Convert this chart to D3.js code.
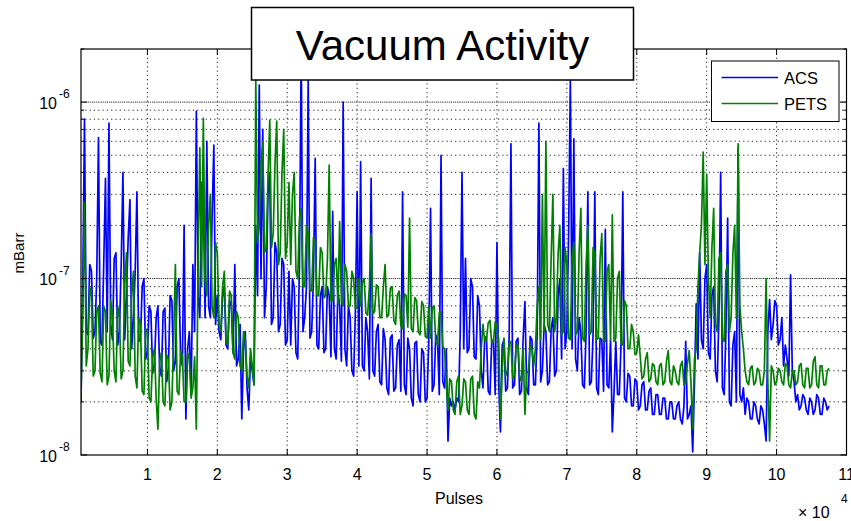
<!DOCTYPE html>
<html>
<head>
<meta charset="utf-8">
<script src="https://cdn.jsdelivr.net/npm/d3@7"></script>
<style>
  body { margin: 0; background: #fff; }
  svg { display: block; font-family: Arial, "Liberation Sans", Helvetica, sans-serif; }
</style>
</head>
<body>
<svg id="chart" width="851" height="521"></svg>
<script>
// pressure readings in units of 1e-8 mBarr, one every 250 pulses starting at 500
const pulseStart = 500;
const pulseStep = 250;
const valueUnit = 1e-8;

const acs = [
  2.0, 9, 80, 5.0, 4.8, 12, 11, 4.6, 5.0, 10, 63, 4.4, 4.2, 12, 37, 5.0, 76, 5.5, 4.5, 13,
  14, 4.2, 5.0, 12, 40, 4.5, 8, 17, 28, 4.0, 6, 11, 31, 4.4, 4.5, 9, 10, 3.5, 3.8, 7,
  6.5, 2.9, 3.2, 6.0, 7.0, 3.1, 2.8, 6.5, 6.8, 2.6, 3.0, 8, 7.5, 3.0, 3.4, 9, 10, 3.6, 3.2, 20,
  1.6, 4.0, 5.0, 2.2, 12, 5, 89, 8, 6, 35, 30, 6, 60, 7, 6, 22, 57, 5.5, 8, 5,
  4.5, 8, 9, 4.2, 4.0, 7.5, 7, 3.8, 12, 3.2, 3.5, 5.5, 1.6, 4.0, 5, 2.4, 1.8, 3.6, 3.0, 2.5,
  20, 8, 125, 10, 70, 6, 9, 30, 40, 5.5, 6, 16, 14, 5, 5.5, 13, 12, 4.2, 4.5, 11,
  4.2, 10, 9, 3.8, 3.5, 12, 210, 5, 6, 9, 136, 4.6, 5, 10, 48, 4.2, 4, 8, 9, 3.8,
  4.0, 9, 8, 3.6, 24, 4.0, 3.5, 8.5, 7, 3.4, 100, 4.0, 3.2, 7, 6, 3.0, 2.8, 6.5, 31, 3.2,
  46, 3.2, 3.0, 6, 5, 2.7, 37, 3.0, 2.8, 5, 5.5, 2.6, 2.5, 5.2, 4.5, 2.4, 2.2, 4.6, 4.8, 2.3,
  2.4, 4.2, 4.5, 2.3, 31, 2.5, 2.2, 4.6, 4.0, 2.1, 1.9, 4.3, 4.4, 2.2, 2.0, 4.0, 3.8, 2.0, 2.1, 4.5,
  25, 2.3, 2.5, 4.8, 4.5, 2.2, 50, 2.6, 2.4, 4.0, 1.2, 2.1, 1.9, 2.0, 1.8, 2.1, 2.0, 5, 40, 4.0,
  13, 3.8, 4.0, 10, 9, 3.6, 3.5, 8, 7, 3.0, 2.4, 4.6, 4.7, 2.3, 2.2, 4.4, 4.5, 2.2, 16, 2.5,
  1.35, 4.2, 4.5, 2.3, 2.4, 4.8, 58, 2.4, 2.5, 4.4, 4.6, 2.2, 2.3, 4.6, 7.4, 2.4, 2.2, 4.7, 4.5, 2.5,
  2.5, 4.8, 76, 2.6, 3.0, 5.5, 5, 2.5, 2.6, 5.2, 6, 2.8, 3.0, 8, 10, 3.5, 42, 4.0, 5, 18,
  135, 4.0, 62, 3.5, 3.0, 6, 5, 2.5, 2.4, 5, 31, 2.5, 2.6, 4.8, 31, 2.4, 2.2, 4.6, 4.5, 2.3,
  19, 2.5, 2.4, 4.5, 1.35, 2.3, 4.4, 2.2, 2.2, 4.2, 31, 2.1, 2.0, 2.9, 2.8, 1.9, 1.9, 2.7, 2.6, 1.8,
  1.9, 2.5, 2.6, 1.8, 1.8, 2.3, 2.4, 1.7, 1.7, 2.2, 2.2, 1.7, 1.7, 2.1, 2.1, 1.6, 1.6, 2.0, 2.0, 1.6,
  1.6, 1.9, 2.0, 1.6, 1.5, 1.9, 4.4, 1.6, 1.7, 1.9, 1.04, 2.5, 7.2, 3.5, 14, 4.5, 4.0, 10, 12, 3.8,
  3.5, 8, 9, 3.0, 2.6, 6, 40, 2.4, 2.2, 5, 22, 2.0, 1.9, 4.2, 5, 2.0, 55, 2.2, 2.0, 2.4,
  1.7, 2.1, 2.0, 1.6, 1.6, 2.0, 1.9, 1.6, 1.5, 1.9, 1.8, 1.5, 1.2, 5, 7.6, 4.5, 5.5, 7.5, 7, 4.2,
  4.5, 6, 3.2, 4.2, 3.5, 2.8, 10.5, 3.0, 2.6, 2.0, 2.2, 1.8, 1.9, 2.2, 2.1, 1.8, 1.7, 2.1, 2.0, 1.7,
  1.8, 2.2, 2.1, 1.7, 1.7, 2.1, 2.0, 1.8, 1.9
];

const pets = [
  2.2, 6, 27, 3.2, 4.0, 9, 8, 2.8, 3.0, 6.5, 7, 2.9, 2.6, 7, 6.5, 2.5, 2.8, 7.5, 6, 3.0,
  2.6, 7, 6, 2.7, 3.0, 9, 14, 3.4, 3.2, 8, 11, 2.8, 2.4, 6, 5.5, 2.3, 2.2, 5.2, 5, 2.1,
  2.0, 3.6, 4.0, 2.1, 1.4, 3.4, 3.8, 2.0, 1.9, 3.7, 3.5, 1.8, 2.0, 4.5, 12, 2.3, 2.2, 3.9, 3.6, 2.0,
  2.0, 3.8, 3.5, 2.1, 2.4, 3.6, 1.4, 12, 55, 9, 81, 10, 8, 20, 30, 7, 6, 16, 14, 5.5,
  5.0, 9, 11, 4.5, 4.2, 8.5, 8, 3.8, 3.5, 6.5, 6, 3.2, 3.0, 5, 4.5, 2.8, 2.4, 4.0, 3.2, 2.5,
  135, 16, 20, 45, 60, 14, 15, 38, 79, 15, 18, 45, 78, 12, 14, 40, 70, 13, 16, 35,
  12, 30, 40, 11, 10, 22, 25, 9, 9, 20, 18, 8.5, 8.5, 17, 16, 8, 8, 15, 14, 7.8,
  8, 13, 44, 7.5, 7.5, 12, 13, 7.2, 21, 7.4, 7, 12, 11, 7.0, 7, 11, 10, 6.8, 6.8, 10,
  7, 9.5, 10, 6.4, 6.2, 9, 18, 6.3, 6.5, 9.2, 9, 6.0, 6, 9, 12, 6.1, 6.2, 8.8, 9, 5.8,
  5.5, 8, 8.5, 5.4, 5.2, 8.2, 8, 5.3, 22, 5.2, 5, 7.8, 7.5, 5.0, 4.8, 7.4, 7, 4.7, 4.6, 7,
  4.6, 6.8, 7, 4.4, 4.2, 6.4, 6.5, 4.1, 4.0, 2.5, 1.8, 2.7, 2.6, 1.8, 1.7, 2.6, 2.8, 1.7, 1.9, 2.7,
  2.6, 1.8, 1.7, 2.7, 2.8, 1.7, 1.6, 2.6, 2.4, 4.0, 5.5, 4.4, 4.5, 5.6, 5.8, 4.3, 4.4, 5.7, 5.4, 4.5,
  1.6, 3.0, 4.6, 2.8, 3.0, 4.3, 4.4, 2.7, 2.8, 4.2, 4.2, 2.8, 2.6, 4.0, 1.7, 2.9, 3.0, 4.2, 4.0, 3.2,
  4.0, 7, 9, 4.5, 30, 5, 60, 5.5, 5, 13, 30, 5, 6, 14, 20, 4.8, 5, 15, 12, 4.6,
  4.5, 13, 16, 4.8, 5, 14, 25, 4.6, 4.4, 12, 20, 4.8, 5, 15, 14, 4.5, 4.6, 13, 18, 4.4,
  4.4, 11, 12, 4.5, 23, 4.4, 4.6, 10, 11, 4.3, 4.2, 7.5, 7, 4.0, 4.0, 5.5, 5, 3.7, 3.8, 4.8,
  3.6, 2.7, 2.8, 3.5, 3.8, 2.6, 2.7, 3.3, 3.2, 2.6, 2.5, 3.2, 3.3, 2.5, 2.6, 3.4, 3.9, 2.6, 2.5, 3.2,
  3.0, 2.6, 2.5, 3.2, 3.4, 2.5, 2.6, 3.3, 3.9, 2.6, 1.4, 3.5, 4.0, 9, 14, 20, 52, 12, 39, 10,
  6, 15, 25, 5.5, 5, 13, 14, 4.6, 4.4, 11, 12, 5, 6, 14, 20, 6, 58, 7, 5, 4.0,
  3.0, 2.6, 2.5, 3.1, 3.2, 2.5, 2.6, 3.1, 3.0, 2.5, 2.5, 3.0, 10, 2.6, 1.2, 3.2, 3.0, 2.5, 2.6, 3.1,
  3.0, 2.6, 2.5, 3.3, 3.2, 2.5, 2.4, 3.0, 3.0, 2.5, 2.6, 3.2, 3.3, 2.5, 2.4, 3.1, 3.1, 2.4, 2.5, 3.4,
  3.6, 2.5, 2.4, 3.2, 3.2, 2.5, 2.5, 3.0, 3.1
];

const xTickValues = [10000, 20000, 30000, 40000, 50000, 60000, 70000, 80000, 90000, 100000, 110000];
const xTickLabels = ["1", "2", "3", "4", "5", "6", "7", "8", "9", "10", "11"];
const yDecades = [1e-8, 1e-7, 1e-6];
const yDecadeLabels = ["-8", "-7", "-6"];
const seriesNames = ["ACS", "PETS"];
const seriesColors = ["#0000ff", "#008000"];

const svg = d3.select("#chart");
const box = { left: 81, right: 846.5, top: 49, bottom: 455 };

const x = d3.scaleLinear().domain([500, 110000]).range([box.left, box.right]);
const y = d3.scaleLog().domain([1e-8, 2e-6]).range([box.bottom, box.top]);

// dotted grid, matlab style
const grid = svg.append("g")
  .attr("stroke", "#222")
  .attr("stroke-width", 1)
  .attr("stroke-dasharray", "1.2,3.1");

grid.selectAll(".hgrid")
  .data(y.ticks().filter(v => v > 1.01e-8 && v < 1.99e-6))
  .enter().append("line")
  .attr("x1", box.left).attr("x2", box.right)
  .attr("y1", d => y(d)).attr("y2", d => y(d));

// decades look heavier because major and minor grid overlap
grid.selectAll(".dgrid")
  .data(yDecades.filter(v => v > 1.01e-8))
  .enter().append("line")
  .attr("stroke-dashoffset", 2)
  .attr("x1", box.left).attr("x2", box.right)
  .attr("y1", d => y(d)).attr("y2", d => y(d));

grid.selectAll(".vgrid")
  .data(xTickValues.slice(0, -1))
  .enter().append("line")
  .attr("y1", box.top).attr("y2", box.bottom)
  .attr("x1", d => x(d)).attr("x2", d => x(d));

// series
svg.append("clipPath").attr("id", "plotClip")
  .append("rect")
  .attr("x", box.left).attr("y", box.top)
  .attr("width", box.right - box.left).attr("height", box.bottom - box.top);

const line = d3.line()
  .x((d, i) => x(pulseStart + i * pulseStep))
  .y(d => y(d * valueUnit));

[acs, pets].forEach((s, k) => {
  svg.append("path")
    .datum(s)
    .attr("clip-path", "url(#plotClip)")
    .attr("fill", "none")
    .attr("stroke", seriesColors[k])
    .attr("stroke-width", 1.7)
    .attr("stroke-linejoin", "round")
    .attr("d", line);
});

// ticks pointing inwards on all four sides
const axes = svg.append("g").attr("stroke", "#000").attr("stroke-width", 1);
xTickValues.forEach(v => {
  axes.append("line").attr("x1", x(v)).attr("x2", x(v)).attr("y1", box.bottom).attr("y2", box.bottom - 6);
  axes.append("line").attr("x1", x(v)).attr("x2", x(v)).attr("y1", box.top).attr("y2", box.top + 6);
});
y.ticks().forEach(v => {
  const major = yDecades.some(d => Math.abs(d - v) / d < 1e-6);
  const len = major ? 6 : 3;
  axes.append("line").attr("x1", box.left).attr("x2", box.left + len).attr("y1", y(v)).attr("y2", y(v));
  axes.append("line").attr("x1", box.right).attr("x2", box.right - len).attr("y1", y(v)).attr("y2", y(v));
});

svg.append("rect")
  .attr("x", box.left).attr("y", box.top)
  .attr("width", box.right - box.left).attr("height", box.bottom - box.top)
  .attr("fill", "none").attr("stroke", "#000").attr("stroke-width", 1.2);

// tick labels
svg.append("g").selectAll("text")
  .data(xTickValues)
  .enter().append("text")
  .attr("x", d => x(d)).attr("y", 480)
  .attr("text-anchor", "middle")
  .attr("font-size", 16)
  .text((d, i) => xTickLabels[i]);

yDecades.forEach((v, i) => {
  svg.append("text")
    .attr("x", 57).attr("y", y(v) + 6.5)
    .attr("text-anchor", "end").attr("font-size", 16)
    .text("10");
  svg.append("text")
    .attr("x", 59).attr("y", y(v) - 4)
    .attr("font-size", 12)
    .text(yDecadeLabels[i]);
});

svg.append("text")
  .attr("x", 459).attr("y", 504)
  .attr("text-anchor", "middle").attr("font-size", 16)
  .text("Pulses");

svg.append("text")
  .attr("x", 798).attr("y", 518).attr("font-size", 16)
  .text("\u00d7 10");
svg.append("text")
  .attr("x", 841).attr("y", 503).attr("font-size", 12)
  .text("4");

svg.append("text")
  .attr("transform", "translate(24,253) rotate(-90)")
  .attr("text-anchor", "middle").attr("font-size", 15)
  .text("mBarr");

// legend
const legend = svg.append("g");
legend.append("rect")
  .attr("x", 711.5).attr("y", 61).attr("width", 127.5).attr("height", 60.5)
  .attr("fill", "#fff").attr("stroke", "#000").attr("stroke-width", 1);
seriesNames.forEach((name, i) => {
  const ly = 77.5 + i * 26;
  legend.append("line")
    .attr("x1", 721.5).attr("x2", 778).attr("y1", ly).attr("y2", ly)
    .attr("stroke", seriesColors[i]).attr("stroke-width", 1.4);
  legend.append("text")
    .attr("x", 784).attr("y", ly + 6).attr("font-size", 16.5)
    .text(name);
});

// title box sits over the top edge of the axes
svg.append("rect")
  .attr("x", 251.5).attr("y", 7.5).attr("width", 382).attr("height", 72.5)
  .attr("fill", "#fff").attr("stroke", "#000").attr("stroke-width", 1.5);
svg.append("text")
  .attr("x", 442.5).attr("y", 60)
  .attr("text-anchor", "middle").attr("font-size", 42)
  .text("Vacuum Activity");
</script>
</body>
</html>
